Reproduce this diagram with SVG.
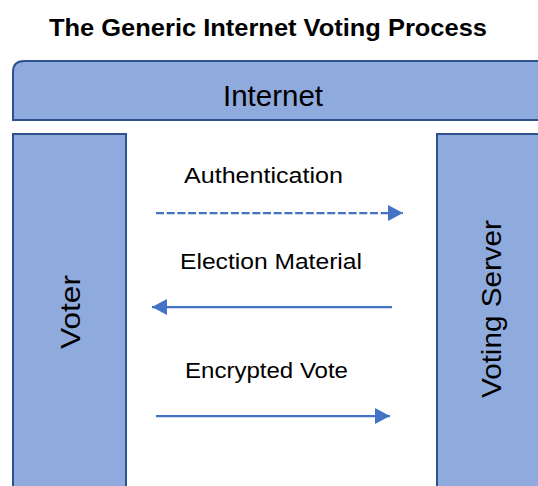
<svg xmlns="http://www.w3.org/2000/svg" width="538" height="486" viewBox="0 0 538 486">
<defs>
<style>
.box{fill:#8FAADC;stroke:#2F528F;stroke-width:2}
.lbl{font-family:"Liberation Sans",Arial,sans-serif;fill:#000}
.conn{stroke:#4472C4;stroke-width:2.25;fill:none}
</style>
<marker id="ah" viewBox="0 0 15 16" refX="15" refY="8" markerWidth="15" markerHeight="16" markerUnits="userSpaceOnUse" orient="auto">
<path d="M0,0 L15,8 L0,16 Z" fill="#4472C4"/>
</marker>
</defs>
<rect width="538" height="486" fill="#fff"/>
<text class="lbl" x="268" y="36" font-size="24" font-weight="bold" text-anchor="middle" textLength="438" lengthAdjust="spacingAndGlyphs">The Generic Internet Voting Process</text>
<g id="internet">
<path class="box" d="M540,120 L13,120 L13,72 Q13,61 24,61 L540,61"/>
<text class="lbl" x="273" y="106" font-size="29" text-anchor="middle" textLength="100" lengthAdjust="spacingAndGlyphs">Internet</text>
</g>
<g id="voter">
<rect class="box" x="13" y="134" width="113" height="360"/>
<text class="lbl" transform="translate(80,312) rotate(-90)" font-size="28" text-anchor="middle" textLength="74" lengthAdjust="spacingAndGlyphs">Voter</text>
</g>
<g id="server">
<rect class="box" x="437" y="134" width="110" height="360"/>
<text class="lbl" transform="translate(501,309) rotate(-90)" font-size="28" text-anchor="middle" textLength="178" lengthAdjust="spacingAndGlyphs">Voting Server</text>
</g>
<g id="connectors">
<line class="conn" x1="156" y1="213" x2="403" y2="213" stroke-dasharray="8,2.7" marker-end="url(#ah)"/>
<line class="conn" x1="392" y1="307" x2="152" y2="307" marker-end="url(#ah)"/>
<line class="conn" x1="156" y1="416" x2="390" y2="416" marker-end="url(#ah)"/>
<text class="lbl" x="184" y="183" font-size="22" textLength="159" lengthAdjust="spacingAndGlyphs">Authentication</text>
<text class="lbl" x="180" y="269" font-size="22" textLength="182" lengthAdjust="spacingAndGlyphs">Election Material</text>
<text class="lbl" x="185" y="378" font-size="22" textLength="163" lengthAdjust="spacingAndGlyphs">Encrypted Vote</text>
</g>
</svg>
